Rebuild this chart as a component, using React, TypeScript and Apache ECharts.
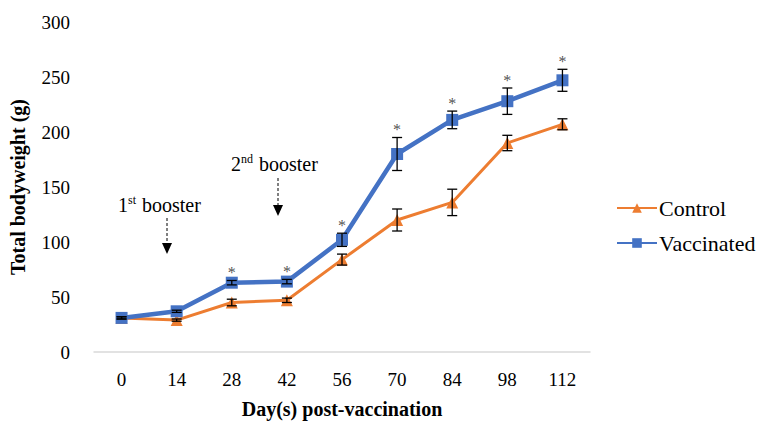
import React, { useEffect, useRef } from "react";
import * as echarts from "echarts";

const days = ["0", "14", "28", "42", "56", "70", "84", "98", "112"];
const controlMean = [31, 29, 45, 47, 84, 120, 136, 190, 207];
const controlErr = [1, 1, 3, 2, 5, 10, 12, 7, 5];
const vaccMean = [31, 37, 63, 64, 102, 180, 211, 228, 247];
const vaccErr = [1, 1, 2, 2, 6, 15, 8, 12, 10];
const significant = [false, false, true, true, true, true, true, true, true];
const yTicks = [0, 50, 100, 150, 200, 250, 300];

const FONT = "Liberation Serif";

function errorSeries(name: string, mean: number[], err: number[]) {
  return {
    type: "custom",
    name: name + "-err",
    z: 5,
    silent: true,
    data: mean.map((m, i) => [i, m, err[i]]),
    renderItem: (params: any, api: any) => {
      const i = api.value(0);
      const m = api.value(1);
      const e = api.value(2);
      const top = api.coord([i, m + e]);
      const bot = api.coord([i, m - e]);
      const cw = 5;
      const style = { stroke: "#000", lineWidth: 1.3, fill: null };
      return {
        type: "group",
        children: [
          { type: "line", shape: { x1: top[0], y1: top[1], x2: bot[0], y2: bot[1] }, style },
          { type: "line", shape: { x1: top[0] - cw, y1: top[1], x2: top[0] + cw, y2: top[1] }, style },
          { type: "line", shape: { x1: bot[0] - cw, y1: bot[1], x2: bot[0] + cw, y2: bot[1] }, style },
        ],
      };
    },
  };
}

export default function App() {
  const ref = useRef<HTMLDivElement>(null);
  useEffect(() => {
    document.body.style.margin = "0";
    if (!ref.current) return;
    const chart = echarts.init(ref.current, undefined, { renderer: "svg" });
    const arrow = (x: number, y1: number, y2: number) => [
      {
        type: "line",
        shape: { x1: x, y1, x2: x, y2: y2 - 8 },
        style: { stroke: "#000", lineWidth: 1, lineDash: [3, 2] },
      },
      {
        type: "polygon",
        shape: { points: [[x - 5, y2 - 11], [x + 5, y2 - 11], [x, y2]] },
        style: { fill: "#000" },
      },
    ];
    const supRich = { sup: { fontSize: 12, fontFamily: FONT, verticalAlign: "top", padding: [0, 1, 9, 0] } };
    chart.setOption({
      animation: false,
      textStyle: { fontFamily: FONT },
      grid: { left: 86, right: 177, top: 22, bottom: 75, containLabel: false },
      xAxis: {
        type: "category",
        data: days,
        boundaryGap: true,
        name: "Day(s) post-vaccination",
        nameLocation: "middle",
        nameGap: 47,
        nameTextStyle: { fontFamily: FONT, fontSize: 20, fontWeight: "bold", color: "#000" },
        axisLine: { lineStyle: { color: "#d9d9d9", width: 1.5 } },
        axisTick: { show: false },
        axisLabel: { fontFamily: FONT, fontSize: 19, color: "#000", margin: 18 },
      },
      yAxis: {
        type: "value",
        min: yTicks[0],
        max: yTicks[yTicks.length - 1],
        interval: 50,
        name: "Total bodyweight (g)",
        nameLocation: "middle",
        nameGap: 66,
        nameTextStyle: { fontFamily: FONT, fontSize: 20, fontWeight: "bold", color: "#000" },
        axisLine: { show: false },
        axisTick: { show: false },
        splitLine: { show: false },
        axisLabel: { fontFamily: FONT, fontSize: 19, color: "#000", margin: 24 },
      },
      legend: {
        orient: "vertical",
        left: 611,
        top: 192,
        itemGap: 13,
        itemWidth: 40,
        itemHeight: 12,
        data: ["Control", "Vaccinated"],
        textStyle: { fontFamily: FONT, fontSize: 22, color: "#000", padding: [0, 0, 0, -3] },
      },
      series: [
        {
          name: "Control",
          type: "line",
          data: controlMean,
          symbol: "triangle",
          symbolSize: 12,
          lineStyle: { color: "#ED7D31", width: 3 },
          itemStyle: { color: "#ED7D31" },
          z: 3,
        },
        {
          name: "Vaccinated",
          type: "line",
          data: vaccMean,
          symbol: "rect",
          symbolSize: 12,
          lineStyle: { color: "#4472C4", width: 4.5 },
          itemStyle: { color: "#4472C4" },
          z: 4,
        },
        errorSeries("Control", controlMean, controlErr),
        errorSeries("Vaccinated", vaccMean, vaccErr),
        {
          name: "sig",
          type: "scatter",
          symbolSize: 0,
          silent: true,
          z: 6,
          data: vaccMean.map((m, i) => (significant[i] ? m + vaccErr[i] : null)),
          label: {
            show: true,
            position: "top",
            distance: 0,
            formatter: "*",
            color: "#222",
            fontSize: 16,
            fontFamily: FONT,
          },
        },
      ],
      graphic: [
        {
          type: "text",
          left: 118,
          top: 194,
          style: { text: "1{sup|st} booster", fontSize: 20, fontFamily: FONT, fill: "#000", rich: supRich },
        },
        ...arrow(167, 218, 254),
        {
          type: "text",
          left: 231,
          top: 153,
          style: { text: "2{sup|nd} booster", fontSize: 20, fontFamily: FONT, fill: "#000", rich: supRich },
        },
        ...arrow(278, 178, 216),
      ],
    });
    return () => chart.dispose();
  }, []);
  return <div ref={ref} style={{ width: 767, height: 427 }} />;
}
